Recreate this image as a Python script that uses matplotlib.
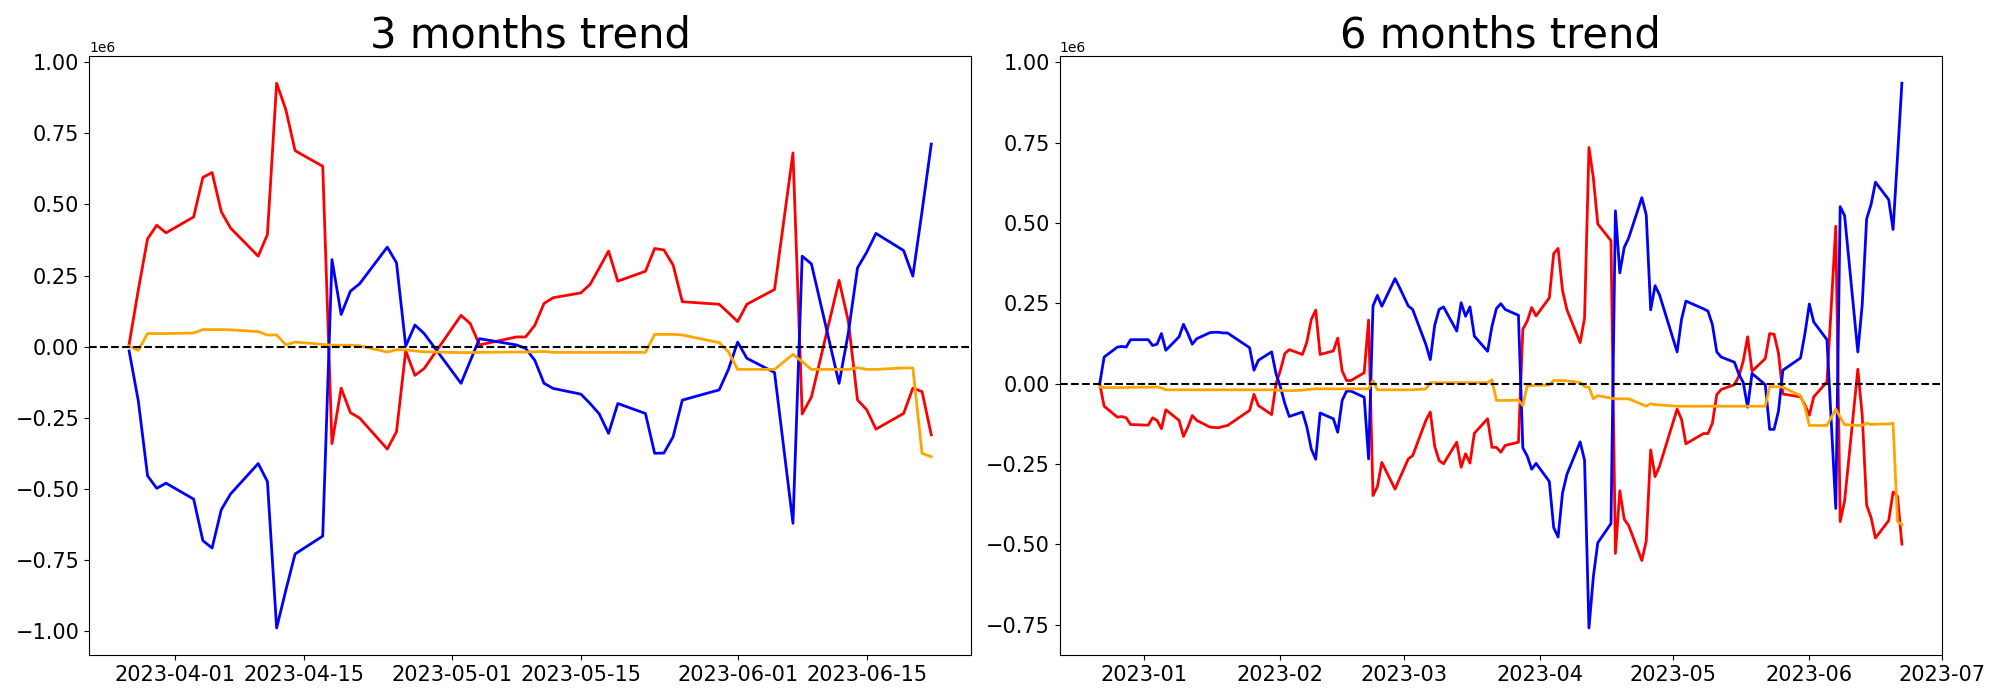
import numpy as np
import pandas as pd
import matplotlib
matplotlib.use("Agg")
import matplotlib.pyplot as plt

# market closed days inside the two windows
holidays = ["2022-12-30", "2023-01-23", "2023-01-24", "2023-03-01",
            "2023-05-01", "2023-05-05", "2023-05-29", "2023-06-06"]

dates_3m = pd.bdate_range("2023-03-27", "2023-06-22", freq="C", holidays=holidays)
dates_6m = pd.bdate_range("2022-12-22", "2023-06-22", freq="C", holidays=holidays)

# values in units of 1e6, one row per week
red_3m = [0.008, 0.200, 0.379, 0.427, 0.400,
          0.456, 0.595, 0.612, 0.474, 0.417,
          0.318, 0.394, 0.926, 0.833, 0.689,
          0.634, -0.341, -0.146, -0.232, -0.251,
          -0.360, -0.299, -0.015, -0.101, -0.077,
          0.110, 0.081, 0.006,
          0.034, 0.034, 0.075, 0.152, 0.172,
          0.189, 0.219, 0.277, 0.336, 0.230,
          0.265, 0.345, 0.340, 0.287, 0.158,
          0.149, 0.119, 0.088, 0.149,
          0.201, 0.681, -0.237, -0.177,
          0.233, 0.090, -0.187, -0.222, -0.290,
          -0.235, -0.146, -0.158, -0.310]
blue_3m = [-0.015, -0.191, -0.454, -0.498, -0.480,
           -0.536, -0.682, -0.708, -0.573, -0.518,
           -0.411, -0.474, -0.989, -0.856, -0.729,
           -0.666, 0.306, 0.113, 0.195, 0.221,
           0.350, 0.295, 0.002, 0.076, 0.046,
           -0.129, -0.050, 0.028,
           0.006, -0.006, -0.048, -0.129, -0.147,
           -0.167, -0.200, -0.237, -0.305, -0.200,
           -0.235, -0.375, -0.374, -0.317, -0.188,
           -0.152, -0.080, 0.016, -0.041,
           -0.091, -0.621, 0.318, 0.291,
           -0.129, 0.047, 0.277, 0.332, 0.398,
           0.338, 0.248, 0.476, 0.712]
orange_3m = [0.002, -0.013, 0.046, 0.046, 0.046,
             0.048, 0.060, 0.060, 0.060, 0.059,
             0.053, 0.041, 0.041, 0.006, 0.016,
             0.008, 0.005, 0.005, 0.005, 0.003,
             -0.019, -0.011, -0.011, -0.015, -0.018,
             -0.021, -0.021, -0.020,
             -0.019, -0.019, -0.018, -0.017, -0.020,
             -0.020, -0.020, -0.020, -0.020, -0.020,
             -0.020, 0.043, 0.043, 0.043, 0.041,
             0.014, -0.018, -0.080, -0.080,
             -0.080, -0.027, -0.053, -0.080,
             -0.080, -0.080, -0.074, -0.080, -0.080,
             -0.075, -0.075, -0.375, -0.387]

red_6m = [0.000, -0.070, -0.104, -0.102, -0.106, -0.127,
          -0.129, -0.106, -0.114, -0.140, -0.081,
          -0.114, -0.164, -0.135, -0.099, -0.114,
          -0.135, -0.136, -0.137, -0.133, -0.130,
          -0.083, -0.033, -0.068,
          -0.096, 0.000,
          0.042, 0.094, 0.106,
          0.091, 0.130, 0.200, 0.229, 0.091,
          0.102, 0.142, 0.040, 0.010, 0.010,
          0.034, 0.198, -0.348, -0.320, -0.245,
          -0.328, -0.296,
          -0.234, -0.224,
          -0.114, -0.088, -0.195, -0.239, -0.249,
          -0.182, -0.260, -0.218, -0.247, -0.154,
          -0.109, -0.198, -0.198, -0.213, -0.192,
          -0.182, 0.170, 0.195, 0.237, 0.211,
          0.267, 0.405, 0.421, 0.290, 0.230,
          0.128, 0.204, 0.735, 0.640, 0.497,
          0.445, -0.528, -0.333, -0.422, -0.441,
          -0.550, -0.489, -0.206, -0.289, -0.257,
          -0.079, -0.111, -0.187,
          -0.155, -0.155, -0.123, -0.034, -0.018,
          -0.003, 0.023, 0.070, 0.146, 0.039,
          0.078, 0.156, 0.154, 0.095, -0.032,
          -0.041, -0.066,
          -0.098, -0.041,
          0.006, 0.490, -0.429, -0.365,
          0.045, -0.098, -0.378, -0.416, -0.480,
          -0.426, -0.337, -0.350, -0.499]
blue_6m = [0.000, 0.083, 0.114, 0.116, 0.114, 0.137,
           0.137, 0.119, 0.123, 0.156, 0.104,
           0.146, 0.185, 0.156, 0.123, 0.140,
           0.159, 0.160, 0.160, 0.158, 0.158,
           0.112, 0.042, 0.073,
           0.099, 0.031,
           -0.010, -0.062, -0.102,
           -0.088, -0.135, -0.203, -0.235, -0.091,
           -0.109, -0.151, -0.052, -0.023, -0.023,
           -0.042, -0.234, 0.242, 0.275, 0.241,
           0.327, 0.300,
           0.242, 0.231,
           0.122, 0.075, 0.182, 0.231, 0.239,
           0.164, 0.252, 0.210, 0.239, 0.148,
           0.101, 0.179, 0.234, 0.249, 0.231,
           0.213, -0.200, -0.225, -0.266, -0.248,
           -0.304, -0.448, -0.477, -0.340, -0.282,
           -0.181, -0.238, -0.760, -0.600, -0.495,
           -0.435, 0.538, 0.345, 0.424, 0.453,
           0.579, 0.525, 0.230, 0.305, 0.277,
           0.099, 0.200, 0.257,
           0.233, 0.226, 0.184, 0.099, 0.083,
           0.067, 0.030, 0.004, -0.073, 0.032,
           -0.003, -0.142, -0.142, -0.085, 0.042,
           0.080, 0.156,
           0.248, 0.192,
           0.137, -0.388, 0.551, 0.523,
           0.099, 0.246, 0.513, 0.557, 0.627,
           0.573, 0.480, 0.705, 0.935]
orange_6m = [-0.010, -0.012, -0.012, -0.012, -0.012, -0.011,
             -0.011, -0.011, -0.010, -0.013, -0.019,
             -0.019, -0.019, -0.019, -0.019, -0.019,
             -0.019, -0.019, -0.019, -0.019, -0.019,
             -0.019, -0.019, -0.019,
             -0.019, -0.020,
             -0.021, -0.021, -0.022,
             -0.020, -0.018, -0.017, -0.016, -0.016,
             -0.016, -0.016, -0.016, -0.016, -0.016,
             -0.016, -0.016, 0.010, -0.019, -0.019,
             -0.019, -0.019,
             -0.019, -0.019,
             -0.016, 0.003, 0.003, 0.003, 0.003,
             0.003, 0.003, 0.003, 0.003, 0.003,
             0.003, 0.012, -0.052, -0.052, -0.052,
             -0.051, -0.068, -0.006, -0.006, -0.005,
             -0.004, 0.010, 0.010, 0.010, 0.009,
             0.004, -0.009, -0.011, -0.047, -0.037,
             -0.045, -0.047, -0.047, -0.047, -0.047,
             -0.064, -0.070, -0.062, -0.065, -0.066,
             -0.070, -0.070, -0.070,
             -0.070, -0.070, -0.070, -0.070, -0.070,
             -0.070, -0.070, -0.070, -0.070, -0.070,
             -0.070, -0.009, -0.009, -0.010, -0.011,
             -0.037, -0.073,
             -0.130, -0.130,
             -0.130, -0.079, -0.104, -0.127,
             -0.130, -0.129, -0.123, -0.127, -0.126,
             -0.125, -0.123, -0.429, -0.438]


def trend(ax, dates, red, blue, orange, title):
    ax.plot(dates, np.array(red) * 1e6, color="red", linewidth=2)
    ax.plot(dates, np.array(blue) * 1e6, color="blue", linewidth=2)
    ax.plot(dates, np.array(orange) * 1e6, color="orange", linewidth=2)
    ax.axhline(0, color="black", linestyle="--", linewidth=1.5)
    ax.set_title(title, fontsize=30)
    ax.tick_params(labelsize=15)


fig, axes = plt.subplots(1, 2, figsize=(20, 7), dpi=100)
fig.subplots_adjust(left=0.0445, right=0.971, top=0.920, bottom=0.064, wspace=0.1)

trend(axes[0], dates_3m, red_3m, blue_3m, orange_3m, "3 months trend")
trend(axes[1], dates_6m, red_6m, blue_6m, orange_6m, "6 months trend")

fig.savefig("out.png")
